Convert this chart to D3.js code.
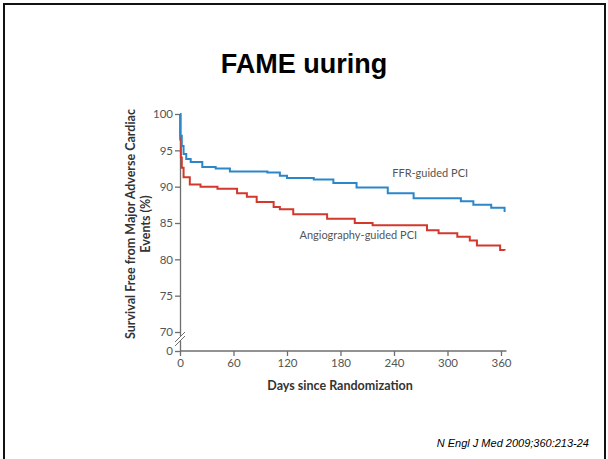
<!DOCTYPE html>
<html>
<head>
<meta charset="utf-8">
<script src="https://cdn.jsdelivr.net/npm/d3@7"></script>
<style>
  body { margin: 0; background: #fff; }
  svg { display: block; }
</style>
</head>
<body>
<div id="chart"></div>
<script>
// Kaplan-Meier steps: [day, % event-free]
const ffrSteps = [
    [0, 100], [0.5, 97.0], [2, 95.6], [4, 94.5], [7, 93.8], [12, 93.4],
    [25, 92.7], [40, 92.5], [56, 92.1], [98, 91.95], [112, 91.5], [120, 91.2],
    [150, 91.0], [172, 90.5], [198, 89.9], [233, 89.1], [262, 88.4],
    [315, 88.0], [329, 87.5], [349, 87.1], [364, 86.5]
];
const angioSteps = [
    [0, 100], [0.3, 96.5], [1, 94.0], [2, 92.6], [4, 91.3], [11, 90.3],
    [23, 90.0], [42, 89.7], [64, 89.1], [75, 88.6], [86, 87.9], [105, 87.2],
    [112, 86.9], [127, 86.2], [165, 85.6], [196, 85.0], [216, 84.7],
    [277, 84.0], [290, 83.6], [311, 83.1], [325, 82.6], [333, 81.9],
    [359, 81.3], [364, 81.2]
];
const seriesNames = ["FFR-guided PCI", "Angiography-guided PCI"];
const xTicks = [0, 60, 120, 180, 240, 300, 360];
const yTicks = [0, 70, 75, 80, 85, 90, 95, 100];

const width = 608, height = 459;
const svg = d3.select("#chart").append("svg")
    .attr("width", width)
    .attr("height", height);

// slide frame
svg.append("path")
    .attr("d", "M4,459V4H605V459")
    .attr("fill", "none")
    .attr("stroke", "#111")
    .attr("stroke-width", 2);

svg.append("text")
    .attr("x", 304).attr("y", 73)
    .attr("text-anchor", "middle")
    .attr("font-family", "Liberation Sans, Arial, sans-serif")
    .attr("font-weight", "bold")
    .attr("font-size", 27)
    .text("FAME uuring");

const x = d3.scaleLinear().domain([0, 360]).range([180, 501]);
// broken axis: 0 sits just below 70
const y = d3.scaleLinear().domain([0, 70, 100]).range([351, 332, 114]);

const axisColor = "#6e6e6e";
const labelFont = "Lato, 'Open Sans', sans-serif";

const yAxis = svg.append("g")
    .attr("transform", "translate(180,0)")
    .call(d3.axisLeft(y).tickValues(yTicks).tickSize(5).tickSizeOuter(0).tickPadding(2));

const xAxis = svg.append("g")
    .attr("transform", "translate(0,351)")
    .call(d3.axisBottom(x).tickValues(xTicks).tickSize(5).tickSizeOuter(0).tickPadding(3));

svg.selectAll(".domain, .tick line")
    .attr("stroke", axisColor)
    .attr("stroke-width", 1.3);
svg.selectAll(".tick text")
    .attr("fill", "#555")
    .attr("font-family", labelFont)
    .attr("font-size", 11.5);

// extend x axis a little past 360
xAxis.select(".domain").attr("d", "M" + x(0) + ",0H" + (x(365) + 1));

// axis break marks
svg.append("rect")
    .attr("x", 177).attr("y", 336).attr("width", 6).attr("height", 5)
    .attr("fill", "#fff");
[0, 4].forEach(off => {
    svg.append("line")
        .attr("x1", 175).attr("y1", 342 + off)
        .attr("x2", 185).attr("y2", 332 + off)
        .attr("stroke", axisColor)
        .attr("stroke-width", 1);
});

const line = d3.line()
    .x(d => x(d[0]))
    .y(d => y(d[1]))
    .curve(d3.curveStepAfter);

svg.append("path")
    .datum(angioSteps)
    .attr("fill", "none")
    .attr("stroke", "#d2392c")
    .attr("stroke-width", 2)
    .attr("d", line);

svg.append("path")
    .datum(ffrSteps)
    .attr("fill", "none")
    .attr("stroke", "#2b87c9")
    .attr("stroke-width", 2)
    .attr("d", line);

// series labels
svg.append("text")
    .attr("x", x(238)).attr("y", y(91.3))
    .attr("fill", "#555")
    .attr("font-family", labelFont)
    .attr("font-size", 11)
    .text(seriesNames[0]);

svg.append("text")
    .attr("x", x(134)).attr("y", y(82.8))
    .attr("fill", "#555")
    .attr("font-family", labelFont)
    .attr("font-size", 11)
    .text(seriesNames[1]);

// axis titles
svg.append("text")
    .attr("x", 340).attr("y", 390)
    .attr("text-anchor", "middle")
    .attr("fill", "#333")
    .attr("font-family", labelFont)
    .attr("font-weight", "bold")
    .attr("font-size", 12.5)
    .text("Days since Randomization");

const yTitle = svg.append("text")
    .attr("transform", "translate(135,224) rotate(-90)")
    .attr("text-anchor", "middle")
    .attr("fill", "#333")
    .attr("font-family", labelFont)
    .attr("font-weight", "bold")
    .attr("font-size", 12.5);
yTitle.append("tspan").attr("x", 0).attr("dy", 0).text("Survival Free from Major Adverse Cardiac");
yTitle.append("tspan").attr("x", 0).attr("dy", 15).text("Events (%)");

svg.append("text")
    .attr("x", 589).attr("y", 447)
    .attr("text-anchor", "end")
    .attr("font-family", "Liberation Sans, Arial, sans-serif")
    .attr("font-style", "italic")
    .attr("font-size", 11)
    .text("N Engl J Med 2009;360:213-24");
</script>
</body>
</html>
